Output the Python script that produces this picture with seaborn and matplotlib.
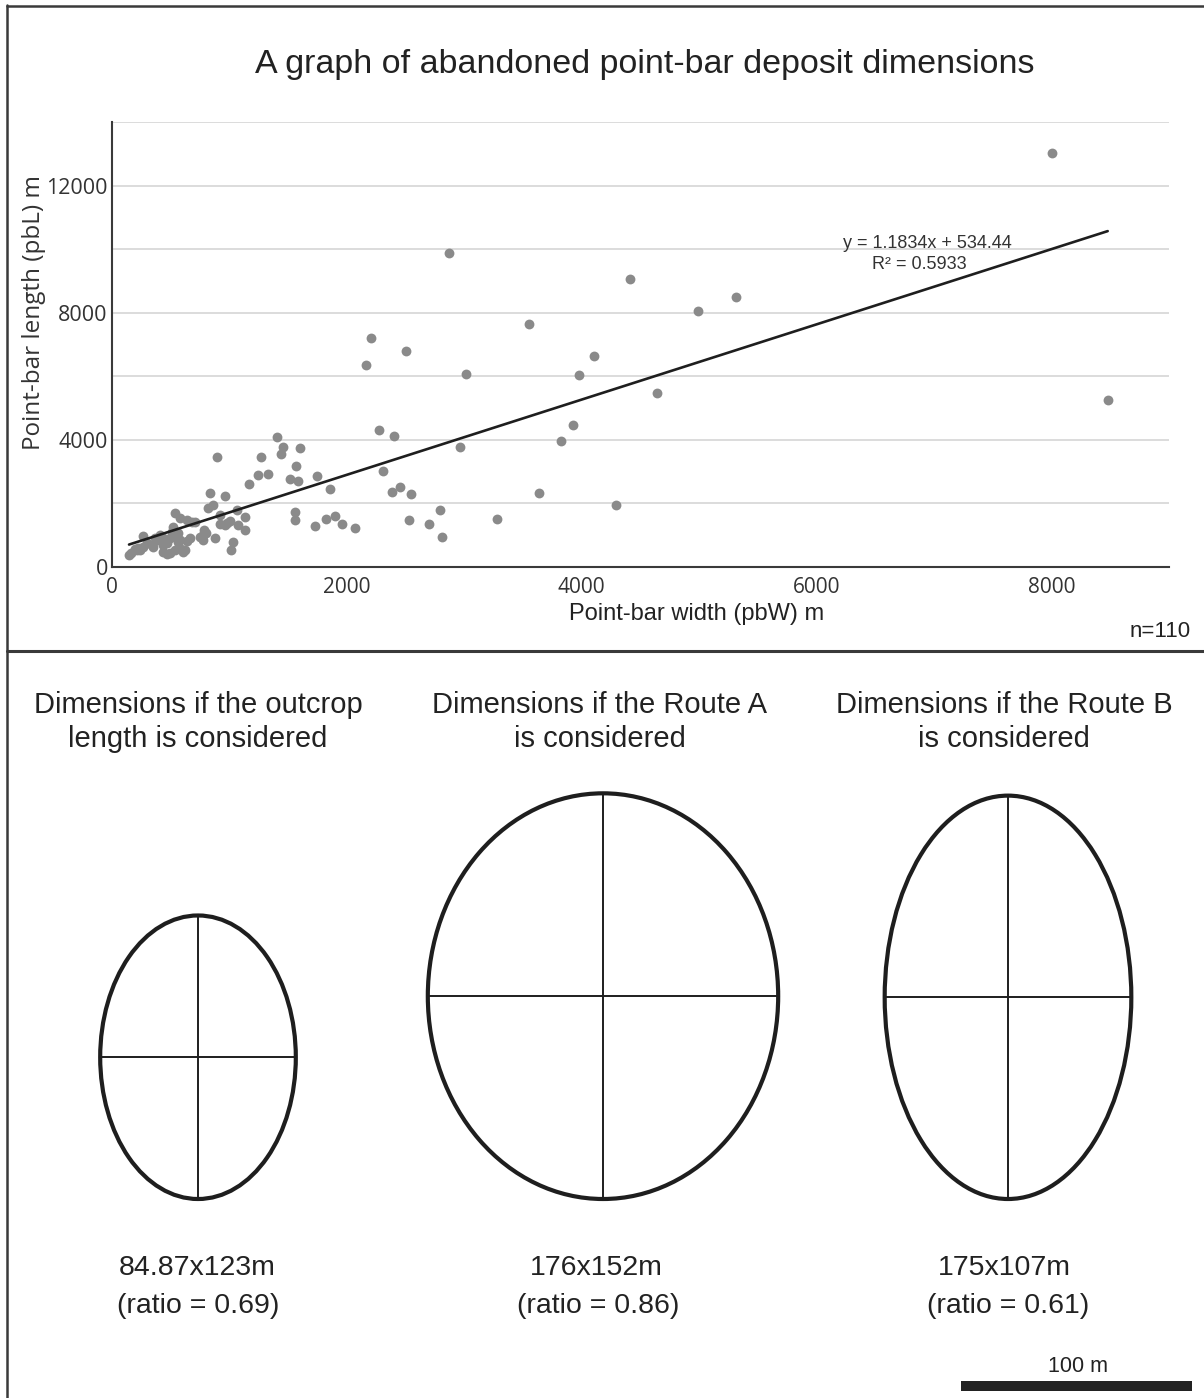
import matplotlib
matplotlib.use("Agg")
import matplotlib.pyplot as plt
from matplotlib.patches import Ellipse, Rectangle
from matplotlib.lines import Line2D
import pandas as pd
import seaborn as sns

# Point-bar widths (pbW) and lengths (pbL), metres
pb_width = [8000, 8478, 2866, 4409, 5313, 4989, 3548, 2209, 2507, 2166,
            4102, 3011, 3974, 4640, 3923, 3821, 2959, 2277, 2397, 2311,
            2448, 2388, 2542, 3633, 4290, 2797, 3275, 2533, 2695, 2814,
            2072, 1962, 1902, 1825, 1731, 1748, 1859, 1407, 1458, 1603,
            1441, 1271, 896, 1569, 1245, 1330, 1518, 1586, 1168, 1561,
            1561, 836, 964, 819, 861, 1066, 537, 580, 640, 708,
            921, 1006, 981, 1134, 921, 1075, 1134, 520, 512, 563,
            554, 580, 665, 640, 785, 776, 776, 878, 1032, 1015,
            409, 435, 264, 341, 350, 435, 469, 623, 588, 537,
            435, 495, 264, 239, 196, 162, 145, 222, 299, 367,
            563, 964, 392, 495, 606, 469, 802, 751, 682, 213]
pb_length = [13040, 5260, 9890, 9071, 8504, 8063, 7654, 7213, 6803, 6362,
             6646, 6079, 6047, 5480, 4472, 3969, 3780, 4315, 4126, 3024,
             2520, 2362, 2299, 2331, 1953, 1795, 1512, 1480, 1354, 945,
             1228, 1354, 1606, 1512, 1291, 2866, 2457, 4094, 3780, 3748,
             3559, 3465, 3465, 3181, 2898, 2929, 2772, 2709, 2614, 1732,
             1480, 2331, 2236, 1858, 1953, 1795, 1701, 1543, 1480, 1417,
             1638, 1449, 1386, 1575, 1354, 1323, 1165, 1260, 1102, 1071,
             945, 850, 913, 819, 1165, 1008, 850, 913, 787, 535,
             1008, 913, 976, 693, 630, 693, 756, 535, 567, 535,
             472, 441, 630, 535, 567, 441, 378, 598, 756, 913,
             787, 1323, 850, 913, 472, 409, 1071, 945, 1417, 535]

# Linear trend reported for the data set
slope = 1.1834
intercept = 534.44
r_squared = 0.5933

x_ticks = [0, 2000, 4000, 6000, 8000]
y_ticks = [0, 4000, 8000, 12000]
grid_levels = [2000, 4000, 6000, 8000, 10000, 12000, 14000]

# Candidate deposit geometries (metres)
scenario_titles = ["Dimensions if the outcrop\nlength is considered",
                   "Dimensions if the Route A\nis considered",
                   "Dimensions if the Route B\nis considered"]
deposit_width = [84.87, 152, 107]
deposit_length = [123, 176, 175]
size_labels = ["84.87x123m", "176x152m", "175x107m"]
ratio_values = [0.69, 0.86, 0.61]
scale_bar_m = 100

sns.set_theme(style="white")
plt.rcParams["font.family"] = ["Liberation Sans", "DejaVu Sans"]

W, H = 1204, 1398
fig = plt.figure(figsize=(W / 100, H / 100), dpi=100)


def fx(px):
    return px / W


def fy(py):
    return 1 - py / H


# ---------------- scatter panel ----------------
ax = fig.add_axes([fx(112), fy(567), fx(1169) - fx(112), fy(122) - fy(567)])
df = pd.DataFrame({"pbW": pb_width, "pbL": pb_length})
sns.scatterplot(data=df, x="pbW", y="pbL", ax=ax, color="#8a8a8a",
                s=50, linewidth=0, zorder=3)

x0, x1 = min(pb_width), max(pb_width)
trend = pd.DataFrame({"x": [x0, x1],
                      "y": [slope * x0 + intercept, slope * x1 + intercept]})
sns.lineplot(data=trend, x="x", y="y", ax=ax, color="#1e1e1e",
             linewidth=1.9, zorder=4)

ax.set_xlim(0, 9000)
ax.set_ylim(0, 14000)
for g in grid_levels:
    ax.axhline(g, color="#dcdcdc", linewidth=1.4, zorder=1)
ax.set_xticks(x_ticks)
ax.set_yticks(y_ticks)
ax.set_xticklabels([str(t) for t in x_ticks], family="Open Sans",
                   fontsize=15, color="#333333")
ax.set_yticklabels([str(t) for t in y_ticks], family="Open Sans",
                   fontsize=15.5, color="#333333")
ax.tick_params(axis="y", length=0, pad=3)
ax.tick_params(axis="x", length=0, pad=7)
ax.set_xlabel("")
ax.set_ylabel("Point-bar length (pbL) m", family="Open Sans",
              fontsize=17.5, color="#333333")
ax.yaxis.set_label_coords(-0.062, 0.573)
for side in ["top", "right"]:
    ax.spines[side].set_visible(False)
for side in ["left", "bottom"]:
    ax.spines[side].set_color("#3a3a3a")
    ax.spines[side].set_linewidth(1.5)
ax.set_facecolor("none")

ax.text(0.771, 0.728, f"y = {slope}x + {intercept}", transform=ax.transAxes,
        ha="center", va="center", fontsize=13, color="#333333")
ax.text(0.764, 0.679, f"R² = {r_squared}", transform=ax.transAxes,
        ha="center", va="center", fontsize=13, color="#333333")

fig.text(fx(645), fy(65), "A graph of abandoned point-bar deposit dimensions",
         ha="center", va="center", fontsize=24.5, color="#222222")
fig.text(fx(697), fy(614), "Point-bar width (pbW) m", ha="center",
         va="center", fontsize=17, color="#222222")
fig.text(fx(1160), fy(632), "n=110", ha="center", va="center",
         fontsize=16, color="#222222")

# ---------------- panel frame ----------------
fig.add_artist(Line2D([fx(7), fx(7)], [fy(5), 0], color="#3a3a3a", lw=1.8))
fig.add_artist(Line2D([fx(7), 1], [fy(6), fy(6)], color="#3a3a3a", lw=1.8))
fig.add_artist(Line2D([fx(7), 1], [fy(651), fy(651)], color="#3a3a3a", lw=2.2))

# ---------------- deposit geometries ----------------
px_per_m = 2.305
bx = fig.add_axes([0, 0, 1, fy(652)])
bx.set_xlim(0, W / px_per_m)
bx.set_ylim(0, (H - 652) / px_per_m)
bx.axis("off")

centres_px = [198, 603, 1008]
base_m = (H - 1199) / px_per_m
for cpx, w, l in zip(centres_px, deposit_width, deposit_length):
    cx = cpx / px_per_m
    cy = base_m + l / 2
    bx.add_patch(Ellipse((cx, cy), w, l, fill=False, edgecolor="#1e1e1e",
                         linewidth=3.0, zorder=3))
    bx.plot([cx - w / 2, cx + w / 2], [cy, cy], color="#1e1e1e", lw=1.4,
            zorder=2)
    bx.plot([cx, cx], [base_m, base_m + l], color="#1e1e1e", lw=1.4, zorder=2)

heading_px = [198, 600, 1004]
label_px = [197, 596, 1004]
ratio_px = [198, 598, 1008]
for hx, lx, rx, title, lab, r in zip(heading_px, label_px, ratio_px,
                                      scenario_titles, size_labels,
                                      ratio_values):
    fig.text(fx(hx), fy(722), title, ha="center", va="center", fontsize=21,
             color="#222222", linespacing=1.25)
    fig.text(fx(lx), fy(1268), lab, ha="center", va="center", fontsize=20.5,
             color="#222222")
    fig.text(fx(rx), fy(1306), f"(ratio = {r:.2f})", ha="center",
             va="center", fontsize=20.5, color="#222222")

# scale bar
sb_left = 961 / px_per_m
sb_y = (H - 1386) / px_per_m
bar_h = 10 / px_per_m
bx.add_patch(Rectangle((sb_left, sb_y - bar_h / 2), scale_bar_m, bar_h,
                       color="#222222", linewidth=0, clip_on=False))
fig.text(fx(1078), fy(1366), f"{scale_bar_m} m", ha="center", va="center",
         fontsize=15.5, color="#222222")

fig.savefig("out.png", dpi=100, facecolor="white")
